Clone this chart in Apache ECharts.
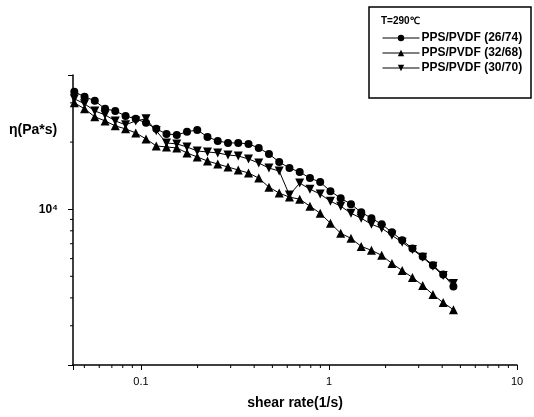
<!DOCTYPE html>
<html><head><meta charset="utf-8">
<script src="https://cdn.jsdelivr.net/npm/echarts@6/dist/echarts.min.js"></script>
<style>html,body{margin:0;padding:0;background:#fff}#c{width:534px;height:417px}</style>
</head><body><div id="c"></div>
<script>
// shear rate (1/s)
const shearRate = [0.0442,0.0501,0.0568,0.0644,0.0730,0.0828,0.0938,0.1064,0.1206,0.1367,
  0.155,0.1757,0.1992,0.2258,0.256,0.2903,0.3291,0.3731,0.4230,0.4795,
  0.5436,0.6163,0.6987,0.7921,0.898,1.018,1.154,1.309,1.484,1.682,
  1.907,2.162,2.451,2.779,3.150,3.571,4.049,4.590];
// viscosity eta (Pa*s)
const eta2674 = [33650,31950,30650,28200,27600,26200,25430,24400,22930,21770,
  21540,22230,22690,21100,20250,19830,19830,19630,18830,17690,
  16280,15300,14680,13790,13230,12050,11210,10530,9690,9110,
  8560,7880,7250,6670,6140,5600,5100,4500];
const eta3268 = [30000,28200,25970,24900,23650,22930,21990,20670,19220,19020,
  18830,17880,17150,16450,15950,15460,14990,14530,13790,12560,
  11810,11330,11090,10320,9590,8650,7800,7400,6810,6540,
  6210,5710,5310,4940,4550,4140,3810,3540];
const eta3070 = [31300,29700,27600,26500,24900,23900,24900,25430,22460,19830,
  19630,19020,18250,18060,17880,17510,17330,16800,16110,15300,
  14830,11570,13100,12300,11690,10860,10320,9590,9110,8560,
  8210,7640,7100,6600,6080,5540,5040,4640];
const seriesNames = ['PPS/PVDF (26/74)','PPS/PVDF (32/68)','PPS/PVDF (30/70)'];
const legendTitle = 'T=290\u2103';
const xAxisTitle = 'shear rate(1/s)';
const yAxisTitle = '\u03b7(Pa*s)';
const xRange = [0.0435, 10];
const yRange = [2000, 40000];
const xTickLabels = {'0.1':'0.1','1':'1','10':'10'};
const yTickLabels = {'10000':'10\u2074'};
const xMinorTicks = [0.05,0.06,0.07,0.08,0.09,0.2,0.3,0.4,0.5,0.6,0.7,0.8,0.9,2,3,4,5,6,7,8,9];
const yMinorTicks = [3000,4000,5000,6000,7000,8000,9000,20000,30000];

const FONT = 'Liberation Sans, Arial, sans-serif';
function pairs(ys){ return shearRate.map((x,i)=>[x, ys[i]]); }
function fmtKey(v){ return String(+v.toPrecision(6)); }

const chart = echarts.init(document.getElementById('c'), null, {renderer:'canvas'});
const lineBase = {
  type:'line', symbolSize:8, showSymbol:true,
  lineStyle:{color:'#000', width:1}, itemStyle:{color:'#000'},
  emphasis:{disabled:true}, animation:false, z:3
};
chart.setOption({
  animation:false,
  backgroundColor:'#fff',
  grid:{left:73, right:17, top:75, bottom:52},
  title:{text:legendTitle, left:376, top:11,
    textStyle:{fontFamily:FONT, fontSize:10, fontWeight:'bold', color:'#000'}},
  legend:{
    orient:'vertical', left:377, top:27, itemWidth:37, itemHeight:8, itemGap:3,
    data:seriesNames, lineStyle:{width:1},
    textStyle:{fontFamily:FONT, fontSize:12, fontWeight:'bold', color:'#000', padding:[0,0,0,-3]}
  },
  graphic:[
    {type:'rect', shape:{x:369, y:7, width:162, height:91},
     style:{fill:'none', stroke:'#000', lineWidth:1.5}, z:10},
    {type:'text', left:9, top:123,
     style:{text:yAxisTitle, fontFamily:FONT, fontSize:14, fontWeight:'bold', fill:'#000'}}
  ],
  xAxis:{
    type:'log', logBase:10, min:xRange[0], max:xRange[1],
    name:xAxisTitle, nameLocation:'middle', nameGap:31,
    nameTextStyle:{fontFamily:FONT, fontSize:14, fontWeight:'bold', color:'#000'},
    axisLine:{lineStyle:{color:'#000', width:1.5}},
    axisTick:{length:5, lineStyle:{color:'#000', width:1}},
    splitLine:{show:false}, minorTick:{show:false},
    axisLabel:{margin:11, fontFamily:FONT, fontSize:11, color:'#000',
      showMinLabel:true, showMaxLabel:true,
      formatter:v=>xTickLabels[fmtKey(v)]||''}
  },
  yAxis:{
    type:'log', logBase:10, min:yRange[0], max:yRange[1],
    axisLine:{lineStyle:{color:'#000', width:1.5}},
    axisTick:{length:5, lineStyle:{color:'#000', width:1}},
    splitLine:{show:false}, minorTick:{show:false},
    axisLabel:{margin:15, fontFamily:FONT, fontSize:12, fontWeight:'bold', color:'#000',
      formatter:v=>yTickLabels[fmtKey(v)]||''}
  },
  series:[
    Object.assign({}, lineBase, {name:seriesNames[0], symbol:'circle', data:pairs(eta2674)}),
    Object.assign({}, lineBase, {name:seriesNames[1], symbol:'triangle', symbolSize:9, data:pairs(eta3268)}),
    Object.assign({}, lineBase, {name:seriesNames[2], symbol:'triangle', symbolSize:9, symbolRotate:180, data:pairs(eta3070)}),
    {type:'custom', name:'xminor', silent:true, clip:false, z:4,
     data:xMinorTicks.map(v=>[v, yRange[0]]),
     renderItem:(params, api)=>{
       const p = api.coord([api.value(0), api.value(1)]);
       return {type:'line', shape:{x1:p[0], y1:p[1], x2:p[0], y2:p[1]+3},
         style:{stroke:'#000', lineWidth:1}};
     }},
    {type:'custom', name:'yminor', silent:true, clip:false, z:4,
     data:yMinorTicks.map(v=>[xRange[0], v]),
     renderItem:(params, api)=>{
       const p = api.coord([api.value(0), api.value(1)]);
       return {type:'line', shape:{x1:p[0], y1:p[1], x2:p[0]-3, y2:p[1]},
         style:{stroke:'#000', lineWidth:1}};
     }}
  ]
});
</script></body></html>
